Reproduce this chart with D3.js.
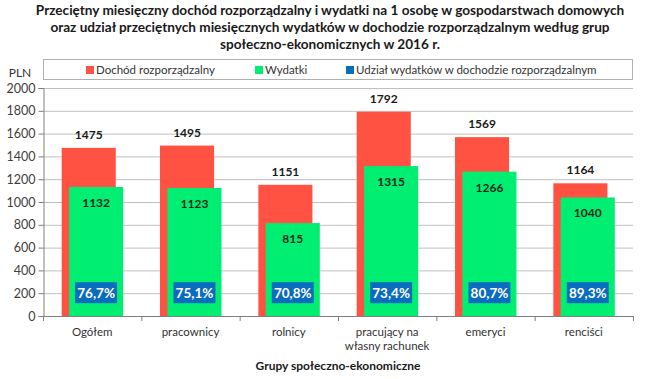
<!DOCTYPE html>
<html><head><meta charset="utf-8">
<script src="https://cdn.jsdelivr.net/npm/d3@7"></script>
<style>
body{margin:0;background:#fff;}
svg{display:block;}
text{font-family:Lato,"Open Sans",sans-serif;}
</style></head>
<body>
<svg id="c" width="645" height="379"></svg>
<script>
const categories = [["Ogółem"],["pracownicy"],["rolnicy"],["pracujący na","własny rachunek"],["emeryci"],["renciści"]];
const income = [1475,1495,1151,1792,1569,1164];
const expenses = [1132,1123,815,1315,1266,1040];
const shares = [76.7,75.1,70.8,73.4,80.7,89.3];
const yTicks = [0,200,400,600,800,1000,1200,1400,1600,1800,2000];
const titleLines = ["Przeciętny miesięczny dochód rozporządzalny i wydatki na 1 osobę w gospodarstwach domowych",
 "oraz udział przeciętnych miesięcznych wydatków w dochodzie rozporządzalnym według grup",
 "społeczno-ekonomicznych w 2016 r."];
const legendItems = ["Dochód rozporządzalny","Wydatki","Udział wydatków w dochodzie rozporządzalnym"];

const RED="#ff5242", GREEN="#00ee72", BLUE="#0a6cbf";
const svg = d3.select("#c");
const L=43, R=633, T=88, B=316;
const x = d3.scaleBand().domain(d3.range(categories.length)).range([L,R]).padding(0);
const y = d3.scaleLinear().domain([0,2000]).range([B,T]);
const bw = x.bandwidth();

// title
svg.append("g").selectAll("text").data(titleLines).join("text")
 .attr("x",330).attr("y",(d,i)=>15+i*17).attr("text-anchor","middle")
 .attr("font-size",13.6).attr("font-weight","bold").attr("fill","#1a1a1a").text(d=>d);

// gridlines
svg.append("g").selectAll("line").data(yTicks.filter(d=>d>0)).join("line")
 .attr("x1",L).attr("x2",R).attr("y1",d=>y(d)+0.5).attr("y2",d=>y(d)+0.5)
 .attr("stroke","#c0c0c0").attr("stroke-width",1);

// legend
const lg = svg.append("g");
lg.append("rect").attr("x",43.5).attr("y",59.5).attr("width",589).attr("height",20)
 .attr("fill","#fff").attr("stroke","#b0b0b0");
const lx=[86,255,346], lc=[RED,GREEN,BLUE];
legendItems.forEach((t,i)=>{
  lg.append("rect").attr("x",lx[i]).attr("y",66).attr("width",8).attr("height",8).attr("fill",lc[i]);
  lg.append("text").attr("x",lx[i]+10).attr("y",74).attr("font-size",11.5).attr("fill","#333").text(t);
});
svg.append("text").attr("x",20).attr("y",77).attr("text-anchor","middle").attr("font-size",12).attr("fill","#333").text("PLN");

// bars
const g = svg.append("g");
g.selectAll("rect.inc").data(income).join("rect").attr("class","inc")
 .attr("x",(d,i)=>x(i)+bw*0.19).attr("width",bw*0.55)
 .attr("y",d=>y(d)).attr("height",d=>y(0)-y(d)).attr("fill",RED);
g.selectAll("rect.exp").data(expenses).join("rect").attr("class","exp")
 .attr("x",(d,i)=>x(i)+bw*0.265).attr("width",bw*0.55)
 .attr("y",d=>y(d)).attr("height",d=>y(0)-y(d)).attr("fill",GREEN);

g.selectAll("text.inc").data(income).join("text").attr("class","inc")
 .attr("x",(d,i)=>x(i)+bw*0.19+bw*0.275).attr("y",d=>y(d)-9)
 .attr("text-anchor","middle").attr("font-size",12).attr("font-weight","bold").attr("fill","#1a1a1a").text(d=>d);
g.selectAll("text.exp").data(expenses).join("text").attr("class","exp")
 .attr("x",(d,i)=>x(i)+bw*0.265+bw*0.275).attr("y",d=>y(d)+20)
 .attr("text-anchor","middle").attr("font-size",12).attr("font-weight","bold").attr("fill","#1a2a1a").text(d=>d);

// share boxes
const fmt = v => d3.format(".1f")(v).replace(".",",")+"%";
const sb = g.selectAll("g.sh").data(shares).join("g").attr("class","sh")
 .attr("transform",(d,i)=>`translate(${x(i)+bw*0.265+bw*0.275},${y(200)})`);
sb.append("rect").attr("x",-21).attr("y",-11).attr("width",42).attr("height",21).attr("fill",BLUE);
sb.append("text").attr("x",0).attr("y",4.5).attr("text-anchor","middle").attr("font-size",13.5)
 .attr("font-weight","bold").attr("fill","#fff").text(d=>fmt(d));

// y axis
const ya = svg.append("g").attr("transform",`translate(${L+0.5},0)`)
 .call(d3.axisLeft(y).tickValues(yTicks).tickSize(5).tickPadding(3).tickFormat(d3.format("d")));
ya.select(".domain").attr("stroke","#808080");
ya.selectAll(".tick line").attr("stroke","#808080");
ya.selectAll(".tick text").attr("font-size",12.5).attr("fill","#404040").attr("font-family","Lato,sans-serif");

// x axis line and ticks at band boundaries
const xa = svg.append("g");
xa.append("line").attr("x1",L).attr("x2",R).attr("y1",B+0.5).attr("y2",B+0.5).attr("stroke","#808080");
xa.selectAll("line.t").data(d3.range(categories.length+1)).join("line").attr("class","t")
 .attr("x1",i=>L+i*bw+0.5).attr("x2",i=>L+i*bw+0.5).attr("y1",B).attr("y2",B+5).attr("stroke","#808080");
xa.selectAll("text").data(categories).join("text")
 .attr("x",(d,i)=>x(i)+bw/2).attr("y",336).attr("text-anchor","middle")
 .attr("font-size",11.5).attr("fill","#333")
 .each(function(d){
   const t=d3.select(this);
   d.forEach((s,j)=>t.append("tspan").attr("x",t.attr("x")).attr("dy",j?13.5:0).text(s));
 });

svg.append("text").attr("x",338).attr("y",370).attr("text-anchor","middle")
 .attr("font-size",12).attr("font-weight","bold").attr("fill","#1a1a1a").text("Grupy społeczno-ekonomiczne");
</script>
</body></html>
